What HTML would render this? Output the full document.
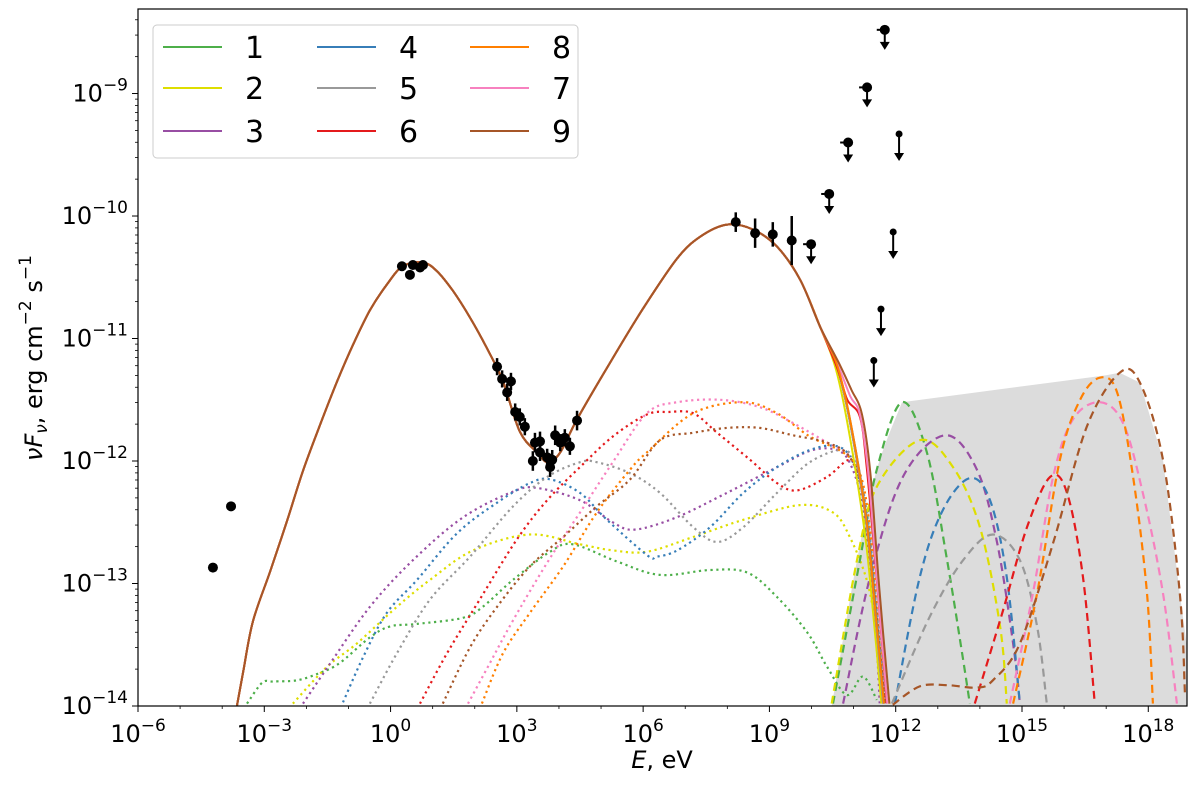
<!DOCTYPE html>
<html><head><meta charset="utf-8"><style>
body{margin:0;background:#fff}
svg{font-family:"DejaVu Sans","Liberation Sans",sans-serif}
</style></head><body>
<svg id="chart" width="1200" height="790" viewBox="0 0 1200 790" xmlns="http://www.w3.org/2000/svg">
<defs><clipPath id="clip"><rect x="138" y="9" width="1049" height="697"/></clipPath></defs>
<rect width="1200" height="790" fill="#fff"/>
<g id="plot" clip-path="url(#clip)"></g>
<g id="axes"></g>
<g id="legend"></g>
</svg>
<script>
const seriesNames=['1','2','3','4','5','6','7','8','9'];
const colors={'1':'#4daf4a','2':'#dede00','3':'#984ea3','4':'#377eb8','5':'#999999','6':'#e41a1c','7':'#f781bf','8':'#ff7f00','9':'#a65628'};
const xTicks=[-6,-3,0,3,6,9,12,15,18];
const yTicks=[-14,-13,-12,-11,-10,-9];
// total model (log E, log vFv)
const baseE=[-3.65,-3.5,-3.27,-2.86,-2.46,-2.08,-1.68,-1.27,-0.89,-0.49,-0.09,0.29,0.77,1.10,1.48,1.89,2.29,2.67,3.07,3.48,3.74,4.03,4.43,5.21,5.99,6.80,7.35,7.99,8.61,9.18,9.73,10.20];
const baseF=[-14.0,-13.72,-13.31,-12.90,-12.49,-12.08,-11.71,-11.35,-11.05,-10.77,-10.56,-10.41,-10.38,-10.45,-10.61,-10.83,-11.08,-11.35,-11.76,-11.93,-12.01,-11.93,-11.66,-11.20,-10.76,-10.35,-10.17,-10.07,-10.11,-10.25,-10.52,-10.90];
const tailE={'1':[10.61,10.95,11.3,11.5,11.70],'2':[10.58,10.91,11.27,11.48,11.66],'3':[10.61,10.95,11.3,11.5,11.70],'4':[10.63,10.97,11.32,11.52,11.72],'5':[10.61,10.95,11.3,11.5,11.70],'6':[10.62,10.85,11.15,11.31,11.55,11.79],'7':[10.63,10.92,11.15,11.35,11.55,11.8],'8':[10.62,10.96,11.31,11.51,11.72],'9':[10.65,10.95,11.2,11.4,11.6,11.85]};
const tailF={'1':[-11.23,-11.75,-12.5,-13.2,-13.98],'2':[-11.25,-11.80,-12.6,-13.3,-13.98],'3':[-11.23,-11.75,-12.5,-13.2,-13.98],'4':[-11.25,-11.76,-12.5,-13.2,-13.98],'5':[-11.23,-11.75,-12.5,-13.2,-13.98],'6':[-11.25,-11.50,-11.64,-12.05,-12.97,-13.98],'7':[-11.22,-11.47,-11.62,-12.1,-12.95,-13.98],'8':[-11.23,-11.74,-12.5,-13.2,-13.98],'9':[-11.20,-11.42,-11.62,-12.1,-13.0,-13.98]};
// dotted components
const dotE={
'1':[-3.41,-3.05,-2.79,-2.22,-1.68,-1.21,-0.49,-0.01,0.63,1.72,2.19,2.91,3.79,4.33,5.38,6.40,7.59,8.47,9.18,9.90,10.37,10.84,11.22,11.55],
'2':[-2.32,-1.51,-0.80,0.15,0.94,1.96,3.31,4.50,5.29,6.10,7.19,8.38,9.72,10.51,10.91,11.31,11.55,11.86],
'3':[-2.08,-1.43,-0.49,0.53,1.72,2.91,3.48,4.50,5.28,5.8,6.79,7.99,9.18,10.03,10.67,10.98,11.22,11.39,11.55,11.62],
'4':[-1.13,-0.65,-0.09,0.63,1.58,2.53,3.31,3.79,4.50,5.14,6.10,6.33,6.81,7.59,8.38,9.18,9.96,10.61,10.98,11.31,11.55,11.74],
'5':[-0.49,0.15,0.94,1.89,2.91,3.72,4.50,4.90,5.69,6.40,7.19,7.76,8.38,9.18,9.96,10.75,11.08,11.31,11.55,11.74],
'6':[0.70,1.34,2.12,3.00,3.72,4.50,5.28,6.09,6.60,7.19,7.76,8.54,9.18,9.66,10.37,10.91,11.15,11.31,11.55,11.74],
'7':[1.84,2.36,2.91,3.72,4.50,5.28,6.09,6.81,7.83,8.77,9.56,10.37,10.91,11.22,11.5,11.74],
'8':[2.17,2.67,3.31,4.10,4.90,5.69,6.09,7.19,8.38,9.18,9.96,10.75,11.15,11.39,11.62,11.74],
'9':[1.24,1.89,2.53,3.31,4.10,4.90,5.69,6.40,7.19,7.99,8.77,9.56,10.37,10.91,11.22,11.46,11.74]};
const dotF={
'1':[-13.98,-13.81,-13.80,-13.79,-13.73,-13.65,-13.44,-13.35,-13.33,-13.28,-13.19,-12.97,-12.74,-12.68,-12.82,-12.93,-12.89,-12.91,-13.11,-13.40,-13.68,-13.91,-13.76,-13.95],
'2':[-13.98,-13.68,-13.49,-13.19,-12.97,-12.73,-12.60,-12.68,-12.73,-12.74,-12.62,-12.48,-12.36,-12.42,-12.62,-12.97,-13.38,-13.98],
'3':[-13.98,-13.65,-13.19,-12.81,-12.46,-12.25,-12.22,-12.32,-12.50,-12.56,-12.46,-12.26,-12.05,-11.91,-11.92,-12.07,-12.37,-12.83,-13.52,-13.98],
'4':[-13.97,-13.60,-13.24,-12.97,-12.59,-12.34,-12.18,-12.15,-12.26,-12.48,-12.77,-12.78,-12.73,-12.54,-12.26,-12.05,-11.91,-11.88,-12.01,-12.42,-13.24,-13.98],
'5':[-13.98,-13.57,-13.13,-12.78,-12.37,-12.13,-12.01,-12.01,-12.10,-12.26,-12.54,-12.66,-12.54,-12.26,-12.01,-11.91,-12.05,-12.42,-13.24,-13.98],
'6':[-13.98,-13.57,-13.13,-12.64,-12.32,-12.05,-11.80,-11.62,-11.60,-11.61,-11.77,-11.99,-12.18,-12.24,-12.13,-11.99,-12.15,-12.56,-13.38,-13.98],
'7':[-13.98,-13.65,-13.30,-12.83,-12.42,-12.01,-11.61,-11.52,-11.50,-11.56,-11.69,-11.85,-11.97,-12.29,-13.11,-13.98],
'8':[-13.98,-13.57,-13.24,-12.86,-12.42,-12.07,-11.93,-11.61,-11.52,-11.61,-11.80,-11.93,-12.10,-12.56,-13.52,-13.98],
'9':[-13.98,-13.52,-13.19,-12.86,-12.62,-12.37,-12.15,-11.83,-11.77,-11.73,-11.73,-11.79,-11.85,-11.97,-12.29,-12.97,-13.98]};
// dashed components
const dashE={
'1':[10.51,11.15,11.55,12.15,12.74,13.22,13.60,13.76],
'2':[10.48,11.08,11.55,12.57,13.36,14.0,14.48,14.64],
'3':[10.75,11.39,12.17,13.17,13.93,14.41,14.79,14.95],
'4':[11.98,12.57,13.12,13.76,14.24,14.64,14.95],
'5':[11.91,12.81,13.60,14.31,14.95,15.36,15.59],
'6':[13.88,14.55,15.12,15.67,16.07,16.45,16.73],
'7':[14.71,15.26,15.74,16.21,16.85,17.40,17.87,18.35,18.68],
'8':[14.79,15.36,15.90,16.38,16.85,17.26,17.64,17.97,18.11],
'9':[11.93,12.57,13.22,13.93,14.31,14.95,15.74,16.54,17.32,17.80,18.35,18.75,18.87]};
const dashF={
'1':[-13.98,-12.81,-12.07,-11.52,-11.93,-12.81,-13.62,-13.98],
'2':[-13.98,-12.81,-12.21,-11.83,-12.05,-12.54,-13.35,-13.98],
'3':[-13.98,-12.95,-12.13,-11.79,-12.07,-12.67,-13.49,-13.98],
'4':[-13.98,-12.95,-12.40,-12.14,-12.32,-12.95,-13.98],
'5':[-13.98,-13.27,-12.81,-12.60,-12.81,-13.35,-13.98],
'6':[-13.98,-13.22,-12.54,-12.13,-12.26,-12.95,-13.98],
'7':[-13.98,-13.08,-12.13,-11.66,-11.52,-11.69,-12.26,-13.08,-13.98],
'8':[-13.98,-13.08,-11.99,-11.50,-11.32,-11.44,-12.13,-13.08,-13.98],
'9':[-13.99,-13.84,-13.83,-13.85,-13.79,-13.49,-12.67,-11.72,-11.28,-11.36,-11.99,-13.08,-13.89]};
// shaded envelope
const shadeE=[10.48,11.08,11.55,12.15,17.0,17.32,17.80,18.35,18.75,18.95,18.95];
const shadeF=[-14.0,-12.81,-12.07,-11.52,-11.30,-11.28,-11.36,-11.99,-13.08,-13.6,-14.0];
// observations
const obsE=[-4.22,-3.79,0.27,0.53,0.46,0.70,0.77,2.53,2.65,2.86,2.77,2.96,3.07,3.19,3.43,3.55,3.38,3.55,3.72,3.84,3.79,3.91,4.03,4.14,4.26,4.43,8.20,8.66,9.08,9.53];
const obsF=[-12.87,-12.37,-10.41,-10.40,-10.48,-10.42,-10.40,-11.23,-11.33,-11.35,-11.44,-11.60,-11.64,-11.72,-11.85,-11.84,-12.00,-11.93,-11.97,-11.99,-12.05,-11.79,-11.85,-11.81,-11.88,-11.67,-10.05,-10.14,-10.15,-10.20];
const obsErr=[0,0,0,0,0,0,0,0.07,0.07,0.07,0.07,0.07,0.07,0.07,0.08,0.08,0.08,0.07,0.07,0.08,0.08,0.08,0.07,0.07,0.07,0.08,0.08,0.12,0.1,0.2];
const ulE=[9.99,10.42,10.87,11.32,11.74];
const ulF=[-10.23,-9.82,-9.40,-8.95,-8.48];
const ul2E=[12.08,11.94,11.65,11.48];
const ul2F=[-9.33,-10.13,-10.76,-11.18];

const X0=138,X1=1187,Y0=706,Y1=9;
const xmin=-6, xmax=18.92, ymin=-14, ymax=-8.31;
const xs=v=>X0+(v-xmin)/(xmax-xmin)*(X1-X0);
const ys=v=>Y0-(v-ymin)/(ymax-ymin)*(Y0-Y1);
const NS='http://www.w3.org/2000/svg';
function mk(tag,attrs,parent){const e=document.createElementNS(NS,tag);for(const k in attrs)e.setAttribute(k,attrs[k]);parent.appendChild(e);return e;}
function pathD(E,F){return E.map((e,i)=>(i?'L':'M')+xs(e).toFixed(1)+','+ys(F[i]).toFixed(1)).join('');}
function smoothD(E,F){const p=E.map((e,i)=>[xs(e),ys(F[i])]);let d='M'+p[0][0].toFixed(1)+','+p[0][1].toFixed(1);
for(let i=0;i<p.length-1;i++){const a=p[i-1]||p[i],b=p[i],c=p[i+1],n=p[i+2]||c;
const c1=[b[0]+(c[0]-a[0])/6,b[1]+(c[1]-a[1])/6],c2=[c[0]-(n[0]-b[0])/6,c[1]-(n[1]-b[1])/6];
d+='C'+c1.map(v=>v.toFixed(1))+' '+c2.map(v=>v.toFixed(1))+' '+c[0].toFixed(1)+','+c[1].toFixed(1);}return d;}
const plot=document.getElementById('plot');
const shade=mk('path',{d:smoothD(shadeE.slice(0,4),shadeF.slice(0,4))+pathD(shadeE.slice(3),shadeF.slice(3)).replace('M','L')+'Z',fill:'#dcdcdc'},plot);


seriesNames.forEach(s=>{
 const p=mk('path',{d:smoothD(dotE[s],dotF[s]),fill:'none',stroke:colors[s],'stroke-width':2.2,'stroke-dasharray':'2.2,3.6'},plot);
 
 
});
seriesNames.forEach(s=>{
 const p=mk('path',{d:smoothD(dashE[s],dashF[s]),fill:'none',stroke:colors[s],'stroke-width':2.2,'stroke-dasharray':'8,5'},plot);
 
 
});
seriesNames.forEach(s=>{
 const p=mk('path',{d:smoothD(baseE.concat(tailE[s]),baseF.concat(tailF[s])),fill:'none',stroke:colors[s],'stroke-width':2},plot);
 
 
});
obsE.forEach((e,i)=>{
 const x=xs(e),y=ys(obsF[i]);
 if(obsErr[i]>0){const l=mk('line',{x1:x,x2:x,y1:ys(obsF[i]+obsErr[i]),y2:ys(obsF[i]-obsErr[i]),stroke:'#000','stroke-width':2.5},plot);
 
 }
 const c=mk('circle',{cx:x,cy:y,r:5,fill:'#000'},plot);
 
 
});
function ul(E,F,r,len,hx){E.forEach((e,i)=>{const x=xs(e),y=ys(F[i]);
 const g=mk('g',{},plot);
 
 
 if(hx)mk('line',{x1:x-8,x2:x+4,y1:y,y2:y,stroke:'#000','stroke-width':2},g);
 mk('line',{x1:x,x2:x,y1:y,y2:y+len-6,stroke:'#000','stroke-width':2},g);
 mk('circle',{cx:x,cy:y,r:r,fill:'#000'},g);
 mk('path',{d:`M${x-5},${y+len-8}L${x+5},${y+len-8}L${x},${y+len}Z`,fill:'#000'},g);});}
ul(ulE,ulF,5,20,true);ul(ul2E,ul2F,3.5,27,false);
// axes
const ax=document.getElementById('axes');
mk('rect',{x:X0,y:Y1,width:X1-X0,height:Y0-Y1,fill:'none',stroke:'#000','stroke-width':1.2},ax);
xTicks.forEach(t=>{const x=xs(t);mk('line',{x1:x,x2:x,y1:Y0,y2:Y0+6,stroke:'#000','stroke-width':1},ax);
 const tx=mk('text',{x:x,y:Y0+36,'font-size':24,'text-anchor':'middle'},ax);
 
 
 tx.innerHTML='10<tspan dy="-11" font-size="17">'+(t<0?'−'+(-t):t)+'</tspan>';});
for(let t=-5;t<=18;t++){if(t%3){const x=xs(t);mk('line',{x1:x,x2:x,y1:Y0,y2:Y0+3,stroke:'#000','stroke-width':0.8},ax);}}
yTicks.forEach(t=>{const y=ys(t);mk('line',{x1:X0-6,x2:X0,y1:y,y2:y,stroke:'#000','stroke-width':1},ax);
 const tx=mk('text',{x:X0-10,y:y+8,'font-size':24,'text-anchor':'end'},ax);
 
 
 tx.innerHTML='10<tspan dy="-11" font-size="17">−'+(-t)+'</tspan>';
 for(let m=2;m<10;m++){const v=t+Math.log10(m);if(v<ymax){const yy=ys(v);mk('line',{x1:X0-3,x2:X0,y1:yy,y2:yy,stroke:'#000','stroke-width':0.8},ax);}}});
const xl=mk('text',{x:662,y:768,'font-size':24,'text-anchor':'middle'},ax);


xl.innerHTML='<tspan font-style="italic">E</tspan>, eV';
const yl=mk('text',{x:0,y:0,'font-size':24,'text-anchor':'middle',transform:'translate(42,358) rotate(-90)'},ax);


yl.innerHTML='<tspan font-style="italic">νF</tspan><tspan font-size="17" dy="5" font-style="italic">ν</tspan><tspan dy="-5">, erg cm</tspan><tspan dy="-11" font-size="17">−2</tspan><tspan dy="11"> s</tspan><tspan dy="-11" font-size="17">−1</tspan>';
// legend
const lg=document.getElementById('legend');
mk('rect',{x:153,y:25,width:425,height:133,rx:4,fill:'#fff','fill-opacity':0.85,stroke:'#ccc','stroke-width':1},lg);
const legOrder=[['1','2','3'],['4','5','6'],['8','7','9']];
const colX=[163,317,470],rowY=[47,88,131];
legOrder.forEach((col,ci)=>col.forEach((s,ri)=>{
 const g=mk('g',{},lg);
 
 
 mk('line',{x1:colX[ci],x2:colX[ci]+59,y1:rowY[ri],y2:rowY[ri],stroke:colors[s],'stroke-width':2},g);
 const t=mk('text',{x:colX[ci]+82,y:rowY[ri]+11,'font-size':30},g);t.textContent=s;}));
</script>
</body></html>
